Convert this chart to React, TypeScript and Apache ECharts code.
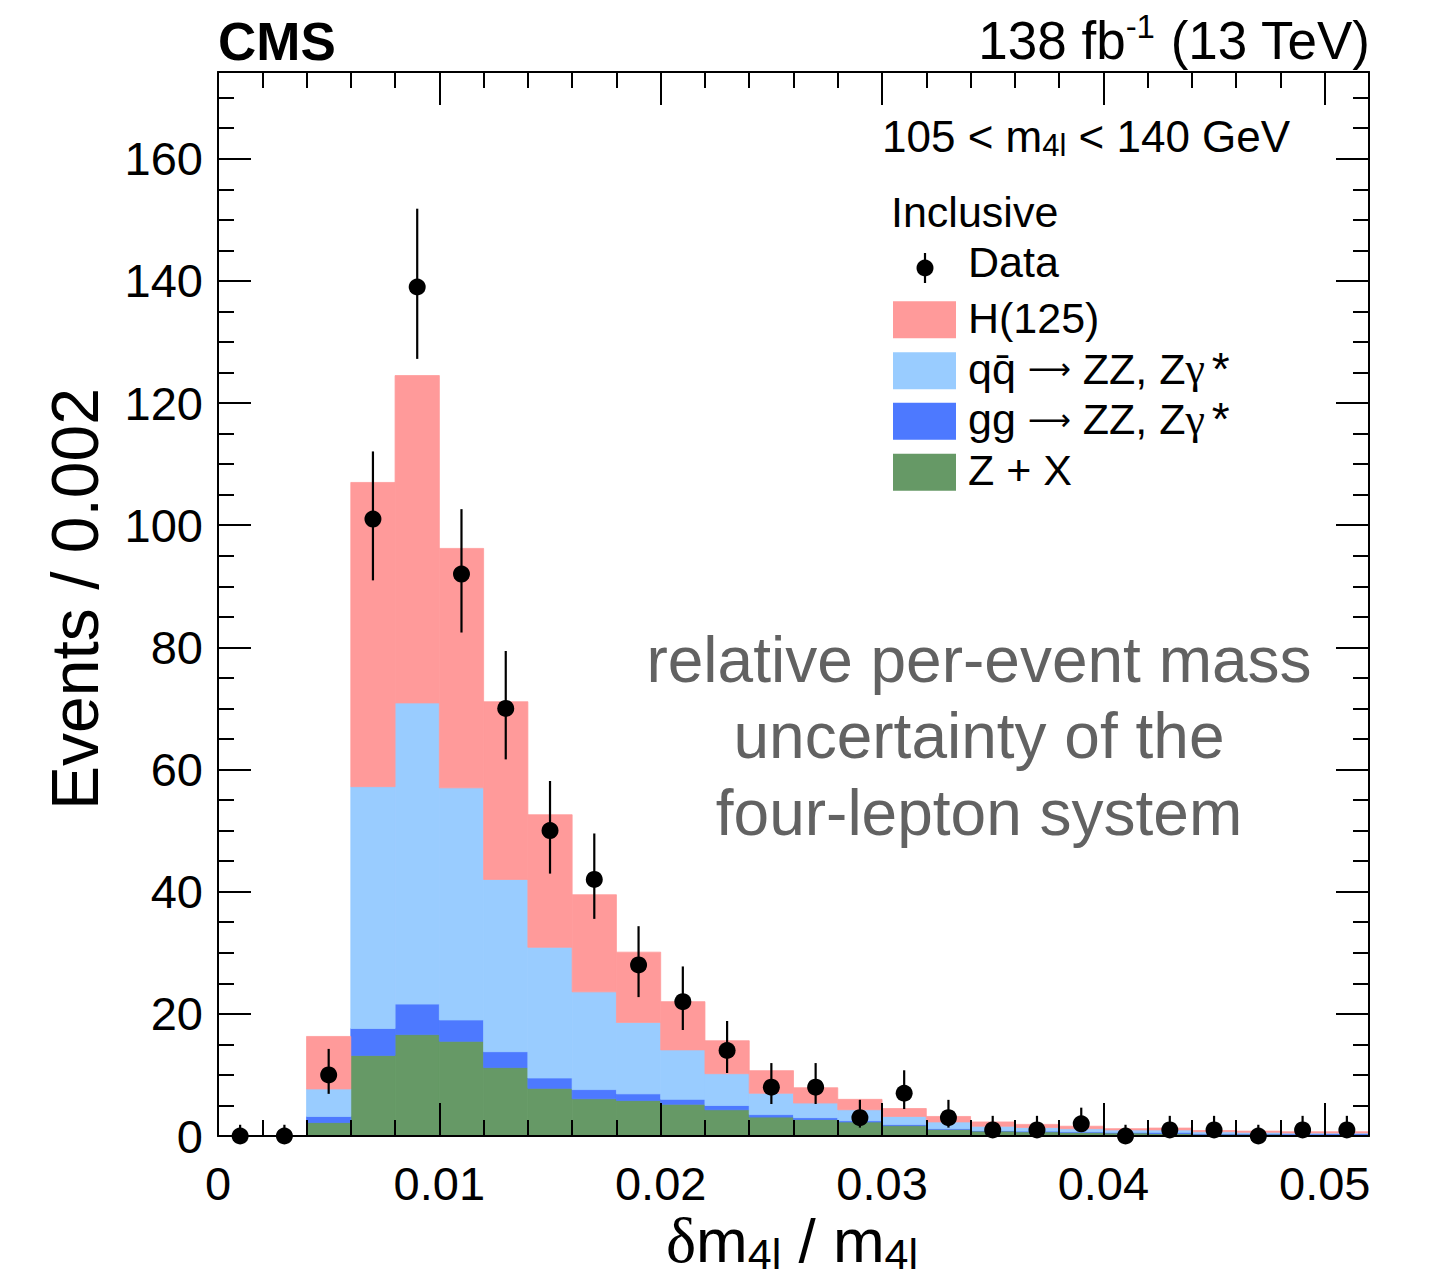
import React, { useEffect, useRef } from "react";
import * as echarts from "echarts";

// ---------------- data ----------------
const binCenters = [
  0.001, 0.003, 0.005, 0.007, 0.009, 0.011, 0.013, 0.015, 0.017, 0.019, 0.021, 0.023, 0.025,
  0.027, 0.029, 0.031, 0.033, 0.035, 0.037, 0.039, 0.041, 0.043, 0.045, 0.047, 0.049, 0.051,
];
const BIN_WIDTH = 0.002;

// stacked background / signal components (events per bin)
const zPlusX = [0, 0, 2.2, 13.2, 16.6, 15.5, 11.2, 7.8, 6.1, 5.8, 5.2, 4.3, 3.1, 2.7, 2.3, 1.7, 1.1, 0.8, 0.7, 0.6, 0.5, 0.4, 0.3, 0.3, 0.2, 0.2];
const ggZZ = [0, 0, 1.0, 4.4, 5.0, 3.5, 2.6, 1.7, 1.5, 1.1, 0.8, 0.7, 0.4, 0.3, 0.2, 0.2, 0.1, 0.1, 0.1, 0.1, 0.1, 0.2, 0.1, 0.1, 0.15, 0.2];
const qqZZ = [0, 0, 4.5, 39.6, 49.3, 38.0, 28.2, 21.4, 16.0, 11.7, 8.1, 5.2, 3.5, 2.4, 1.8, 1.3, 1.1, 0.7, 0.6, 0.5, 0.4, 0.4, 0.3, 0.2, 0.15, 0.1];
const higgs = [0, 0, 8.6, 49.8, 53.6, 39.2, 29.1, 21.7, 15.9, 11.5, 7.9, 5.4, 3.7, 2.5, 1.7, 1.3, 0.9, 0.7, 0.5, 0.4, 0.2, 0.3, 0.2, 0.2, 0.2, 0.2];

// observed data with asymmetric (Poisson) error band edges
const dataCounts = [0, 0, 10, 101, 139, 92, 70, 50, 42, 28, 22, 14, 8, 8, 3, 7, 3, 1, 1, 2, 0, 1, 1, 0, 1, 1];
const dataLow = [0, 0, 6.9, 90.97, 127.23, 82.43, 61.66, 42.96, 35.55, 22.74, 17.35, 10.31, 5.24, 5.24, 1.37, 4.42, 1.37, 0.17, 0.17, 0.71, 0, 0.17, 0.17, 0, 0.17, 0.17];
const dataHigh = [1.84, 1.84, 14.26, 112.08, 151.82, 102.63, 79.41, 58.12, 49.53, 34.35, 27.76, 18.83, 11.94, 11.94, 5.92, 10.76, 5.92, 3.3, 3.3, 4.64, 1.84, 3.3, 3.3, 1.84, 3.3, 3.3];

const xTickValues = [0, 0.01, 0.02, 0.03, 0.04, 0.05];
const xTickLabels = ["0", "0.01", "0.02", "0.03", "0.04", "0.05"];
const yTickValues = [0, 20, 40, 60, 80, 100, 120, 140, 160];
const yTickLabels = ["0", "20", "40", "60", "80", "100", "120", "140", "160"];

const X_MIN = 0;
const X_MAX = 0.052;
const Y_MIN = 0;
const Y_MAX = 174.2;

// ---------------- style ----------------
const FONT = "'Liberation Sans', Arial, Helvetica, sans-serif";
const GREEK_FONT = "'Liberation Serif', 'DejaVu Serif', serif";
const ARROW_FONT = "'DejaVu Sans', 'Liberation Sans', sans-serif";
const COLORS = {
  zx: "#669966",
  gg: "#4d79ff",
  qq: "#99ccff",
  h: "#ff9a9a",
};
const GRID = { left: 218, top: 72, width: 1151, height: 1064 };

function labelFor(values: number[], labels: string[]) {
  return (v: number) => {
    for (let i = 0; i < values.length; i++) {
      if (Math.abs(values[i] - v) < 1e-9) return labels[i];
    }
    return "";
  };
}

function makeAxes(dim: "x" | "y") {
  const isX = dim === "x";
  const minorInterval = isX ? 0.002 : 5;
  const majorInterval = isX ? 0.01 : 20;
  const min = isX ? X_MIN : Y_MIN;
  const max = isX ? X_MAX : Y_MAX;
  const positions = isX ? ["bottom", "top"] : ["left", "right"];
  const axes: any[] = [];
  positions.forEach((pos, pi) => {
    axes.push({
      type: "value",
      position: pos,
      min,
      max,
      interval: minorInterval,
      z: 10,
      axisLine: { show: true, onZero: false, lineStyle: { color: "#000", width: 2 } },
      axisTick: { show: true, inside: true, length: 16, lineStyle: { color: "#000", width: 2 } },
      axisLabel: { show: false },
      splitLine: { show: false },
    });
    axes.push({
      type: "value",
      position: pos,
      min,
      max,
      interval: majorInterval,
      z: 10,
      axisLine: { show: false, onZero: false },
      axisTick: { show: true, inside: true, length: 33, lineStyle: { color: "#000", width: 2 } },
      axisLabel:
        pi === 0
          ? {
              show: true,
              color: "#000",
              fontFamily: FONT,
              fontSize: 47,
              margin: isX ? 24 : 15,
              showMaxLabel: true,
              formatter: isX ? labelFor(xTickValues, xTickLabels) : labelFor(yTickValues, yTickLabels),
            }
          : { show: false },
      splitLine: { show: false },
    });
  });
  return axes;
}

function rectRenderer(color: string) {
  return (params: any, api: any) => {
    const xc = api.value(0);
    const y0 = api.value(1);
    const y1 = api.value(2);
    if (!(y1 > y0)) return null;
    const p0 = api.coord([xc - BIN_WIDTH / 2, y0]);
    const p1 = api.coord([xc + BIN_WIDTH / 2, y1]);
    return {
      type: "rect",
      shape: { x: p0[0], y: p1[1], width: p1[0] - p0[0], height: p0[1] - p1[1] },
      style: { fill: color, stroke: color, lineWidth: 0.8 },
    };
  };
}

function errorRenderer(params: any, api: any) {
  const x = api.value(0);
  const lo = api.coord([x, api.value(1)]);
  const hi = api.coord([x, api.value(2)]);
  return {
    type: "line",
    shape: { x1: lo[0], y1: lo[1], x2: hi[0], y2: hi[1] },
    style: { stroke: "#000", lineWidth: 2.2 },
  };
}

function buildOption() {
  const components = [
    { name: "Z + X", values: zPlusX, color: COLORS.zx },
    { name: "gg → ZZ, Zγ*", values: ggZZ, color: COLORS.gg },
    { name: "qq̄ → ZZ, Zγ*", values: qqZZ, color: COLORS.qq },
    { name: "H(125)", values: higgs, color: COLORS.h },
  ];
  let base = binCenters.map(() => 0);
  const stackSeries = components.map((c) => {
    const rows = binCenters.map((x, i) => [x, base[i], base[i] + c.values[i]]);
    base = rows.map((r) => r[2]);
    return {
      type: "custom",
      name: c.name,
      xAxisIndex: 0,
      yAxisIndex: 0,
      renderItem: rectRenderer(c.color),
      data: rows,
      clip: false,
      z: 2,
      silent: true,
    };
  });

  const errSeries = {
    type: "custom",
    name: "Data errors",
    xAxisIndex: 0,
    yAxisIndex: 0,
    renderItem: errorRenderer,
    data: binCenters.map((x, i) => [x, dataLow[i], dataHigh[i]]),
    clip: false,
    z: 4,
    silent: true,
  };

  const dataSeries = {
    type: "scatter",
    name: "Data",
    xAxisIndex: 0,
    yAxisIndex: 0,
    data: binCenters.map((x, i) => [x, dataCounts[i]]),
    symbol: "circle",
    symbolSize: 17,
    itemStyle: { color: "#000", opacity: 1 },
    clip: false,
    z: 5,
    silent: true,
  };

  const legendTop = [319.7, 370.7, 421.3, 472.3];
  const legendItems = [
    { text: "{a|H(125)}", color: COLORS.h },
    { text: "{a|qq̄ }{r|⟶}{a| ZZ, Z}{g|γ}{p|*}", color: COLORS.qq },
    { text: "{a|gg }{r|⟶}{a| ZZ, Z}{g|γ}{p|*}", color: COLORS.gg },
    { text: "{a|Z + X}", color: COLORS.zx },
  ];
  const legendRich = {
    a: { fontFamily: FONT, fontSize: 43, lineHeight: 50, verticalAlign: "middle", fill: "#000" },
    g: { fontFamily: GREEK_FONT, fontSize: 44, lineHeight: 50, verticalAlign: "middle", fill: "#000" },
    r: { fontFamily: ARROW_FONT, fontSize: 30, lineHeight: 50, verticalAlign: "middle", fill: "#000" },
    p: { fontFamily: FONT, fontSize: 46, lineHeight: 50, verticalAlign: "middle", fill: "#000", padding: [0, 0, 0, 7] },
  };

  const graphic: any[] = [
    {
      type: "text",
      z: 20,
      style: { x: 218, y: 41, text: "CMS", fontFamily: FONT, fontWeight: "bold", fontSize: 53, fill: "#000", align: "left", verticalAlign: "middle" },
    },
    {
      type: "text",
      z: 20,
      style: {
        x: 1370,
        y: 40,
        text: "{a|138 fb}{p|-1}{a| (13 TeV)}",
        align: "right",
        verticalAlign: "middle",
        rich: {
          a: { fontFamily: FONT, fontSize: 53, lineHeight: 60, verticalAlign: "middle", fill: "#000" },
          p: { fontFamily: FONT, fontSize: 33, lineHeight: 38, verticalAlign: "top", fill: "#000" },
        },
      },
    },
    {
      type: "text",
      z: 20,
      style: {
        x: 882,
        y: 136,
        text: "{a|105 < m}{s|4l}{a| < 140 GeV}",
        align: "left",
        verticalAlign: "middle",
        rich: {
          a: { fontFamily: FONT, fontSize: 44, lineHeight: 50, verticalAlign: "middle", fill: "#000" },
          s: { fontFamily: FONT, fontSize: 31, lineHeight: 9, verticalAlign: "bottom", fill: "#000" },
        },
      },
    },
    {
      type: "text",
      z: 20,
      style: { x: 891, y: 212, text: "Inclusive", fontFamily: FONT, fontSize: 43, fill: "#000", align: "left", verticalAlign: "middle" },
    },
    // Data legend marker
    { type: "line", z: 20, shape: { x1: 925, y1: 253, x2: 925, y2: 283 }, style: { stroke: "#000", lineWidth: 2.2 } },
    { type: "circle", z: 21, shape: { cx: 925, cy: 268, r: 8.5 }, style: { fill: "#000" } },
    {
      type: "text",
      z: 20,
      style: { x: 968, y: 262, text: "Data", fontFamily: FONT, fontSize: 43, fill: "#000", align: "left", verticalAlign: "middle" },
    },
    // gray annotation
    {
      type: "text",
      z: 20,
      style: {
        x: 979,
        y: 736,
        text: "relative per-event mass\nuncertainty of the\nfour-lepton system",
        fontFamily: FONT,
        fontSize: 64,
        lineHeight: 76.5,
        fill: "#626262",
        align: "center",
        verticalAlign: "middle",
      },
    },
    // y axis title
    {
      type: "text",
      z: 20,
      x: 75,
      y: 599,
      rotation: Math.PI / 2,
      style: { x: 0, y: 0, text: "Events / 0.002", fontFamily: FONT, fontSize: 66, fill: "#000", align: "center", verticalAlign: "middle" },
    },
    // x axis title
    {
      type: "text",
      z: 20,
      style: {
        x: 792,
        y: 1240,
        text: "{d|δ}{a|m}{s|4l}{a| / m}{s|4l}",
        align: "center",
        verticalAlign: "middle",
        rich: {
          d: { fontFamily: GREEK_FONT, fontSize: 64, lineHeight: 70, verticalAlign: "middle", fill: "#000" },
          a: { fontFamily: FONT, fontSize: 62, lineHeight: 70, verticalAlign: "middle", fill: "#000" },
          s: { fontFamily: FONT, fontSize: 43, lineHeight: 10, verticalAlign: "bottom", fill: "#000" },
        },
      },
    },
  ];

  legendItems.forEach((it, i) => {
    const cy = legendTop[i];
    graphic.push({
      type: "rect",
      z: 20,
      shape: { x: 893, y: cy - 18.5, width: 63, height: 37 },
      style: { fill: it.color },
    });
    graphic.push({
      type: "text",
      z: 20,
      style: { x: 968, y: cy - 2, text: it.text, align: "left", verticalAlign: "middle", rich: legendRich },
    });
  });

  return {
    animation: false,
    backgroundColor: "#fff",
    grid: { ...GRID, containLabel: false },
    xAxis: makeAxes("x"),
    yAxis: makeAxes("y"),
    series: [...stackSeries, errSeries, dataSeries],
    graphic,
  };
}

export default function App() {
  const ref = useRef<HTMLDivElement>(null);
  useEffect(() => {
    if (!ref.current) return;
    const chart = echarts.init(ref.current, undefined, { renderer: "svg" });
    chart.setOption(buildOption() as any);
    return () => chart.dispose();
  }, []);
  return (
    <div
      ref={ref}
      style={{ position: "absolute", left: 0, top: 0, width: 1434, height: 1286, background: "#fff" }}
    />
  );
}
